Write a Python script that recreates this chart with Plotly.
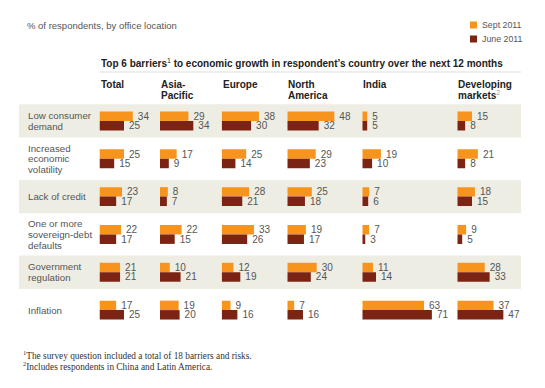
import plotly.graph_objects as go

# ---------------- data ----------------
row_label_lines = [
    ["Low consumer", "demand"],
    ["Increased", "economic", "volatility"],
    ["Lack of credit"],
    ["One or more", "sovereign-debt", "defaults"],
    ["Government", "regulation"],
    ["Inflation"],
]
region_header_lines = [
    ["Total"],
    ["Asia-", "Pacific"],
    ["Europe"],
    ["North", "America"],
    ["India"],
    ["Developing", "markets<sup><span style='color:#999'>2</span></sup>"],
]
sept_total = [34, 25, 23, 22, 21, 17]
june_total = [25, 15, 17, 17, 21, 25]
sept_asia = [29, 17, 8, 22, 10, 19]
june_asia = [34, 9, 7, 15, 21, 20]
sept_europe = [38, 25, 28, 33, 12, 9]
june_europe = [30, 14, 21, 26, 19, 16]
sept_na = [48, 29, 25, 19, 30, 7]
june_na = [32, 23, 18, 17, 24, 16]
sept_india = [5, 19, 7, 7, 11, 63]
june_india = [5, 10, 6, 3, 14, 71]
sept_dev = [15, 21, 18, 9, 28, 37]
june_dev = [8, 8, 15, 5, 33, 47]

sept_series = [sept_total, sept_asia, sept_europe, sept_na, sept_india, sept_dev]
june_series = [june_total, june_asia, june_europe, june_na, june_india, june_dev]
series_names = ["Sept 2011", "June 2011"]

title_text = "% of respondents, by office location"
header_text = ("Top 6 barriers<sup><span style='font-weight:normal'>1</span></sup> "
               "to economic growth in respondent\u2019s country over the next 12 months")
footnotes = [
    "<sup>1</sup>The survey question included a total of 18 barriers and risks.",
    "<sup>2</sup>Includes respondents in China and Latin America.",
]

# ---------------- style / layout ----------------
# the page body has an 8px default margin; coordinates below are screen pixels
OX, OY = 8, 8
W, H = 537, 380
PLOT_TOP, PLOT_BOTTOM = 102, 329
MT = PLOT_TOP - OY
MB = H - (PLOT_BOTTOM - OY)
PH = H - MT - MB
ORANGE = "#F7941E"
DARK = "#7B2414"
BAND = "#EEEDE3"
TXT = "#555555"
SANS = "Liberation Sans, Arial, sans-serif"
SERIF = "Liberation Serif, Times New Roman, serif"
PX_PER_UNIT = 0.98

panel_starts = [99.5, 160, 221.7, 287.3, 362.3, 457.3]
panel_ends = [156, 217, 283.5, 358, 453, 540]


def px_x(px):
    return (px - OX) / W


def px_y(py):
    return (PLOT_BOTTOM - py) / PH


fig = go.Figure()
n_rows = len(row_label_lines)
rows = list(range(n_rows))

layout_axes = {}
for k in range(6):
    ax = "x" if k == 0 else f"x{k + 1}"
    axname = "xaxis" if k == 0 else f"xaxis{k + 1}"
    width_px = panel_ends[k] - panel_starts[k]
    layout_axes[axname] = dict(
        domain=[px_x(panel_starts[k]), px_x(panel_ends[k])],
        range=[0, width_px / PX_PER_UNIT],
        visible=False, anchor="y", fixedrange=True,
    )
    for vals, color, name, off in [
        (sept_series[k], ORANGE, series_names[0], -0.25),
        (june_series[k], DARK, series_names[1], 0.0),
    ]:
        fig.add_trace(go.Bar(
            y=rows, x=vals, orientation="h", xaxis=ax, yaxis="y",
            marker=dict(color=color, line=dict(width=0)),
            width=0.25, offset=off, name=name, showlegend=False,
            text=["\u2009" + str(v) for v in vals], textposition="outside",
            textfont=dict(family=SANS, size=10, color=TXT),
            constraintext="none", cliponaxis=False,
            hoverinfo="skip",
        ))

fig.update_layout(
    width=W, height=H,
    margin=dict(l=0, r=0, t=MT, b=MB, pad=0),
    paper_bgcolor="white", plot_bgcolor="white",
    yaxis=dict(domain=[0, 1], range=[n_rows - 0.5, -0.5], visible=False,
               anchor="x", fixedrange=True),
    barmode="overlay",
    **layout_axes,
)

shapes = []
annotations = []

# shaded bands on alternate rows
for i in rows:
    if i % 2 == 0:
        shapes.append(dict(type="rect", xref="paper", yref="y", layer="below",
                           x0=px_x(19), x1=px_x(521), y0=i - 0.44, y1=i + 0.44,
                           fillcolor=BAND, line=dict(width=0)))

# row labels
LINE_H = 10.7
for i, lines in enumerate(row_label_lines):
    n = len(lines)
    for j, line in enumerate(lines):
        annotations.append(dict(
            text=line, xref="paper", yref="y", x=px_x(26.5), y=i,
            xanchor="left", yanchor="middle", showarrow=False,
            yshift=-(j - (n - 1) / 2) * LINE_H, borderpad=0,
            font=dict(family=SANS, size=9.7, color=TXT),
        ))

# region headers
for k, lines in enumerate(region_header_lines):
    for j, line in enumerate(lines):
        annotations.append(dict(
            text="<b>" + line.replace("<sup>", "</b><sup>").replace("</sup>", "</sup><b>") + "</b>",
            xref="paper", yref="paper", x=px_x(panel_starts[k]), y=px_y(84.3 + j * 11),
            xanchor="left", yanchor="middle", showarrow=False, borderpad=0,
            font=dict(family=SANS, size=10, color="#222222"),
        ))

# chart header + rule
annotations.append(dict(
    text="<b>" + header_text + "</b>", xref="paper", yref="paper",
    x=px_x(99.5), y=px_y(62.5), xanchor="left", yanchor="middle", showarrow=False,
    borderpad=0, font=dict(family=SANS, size=10, color="#222222"),
))
shapes.append(dict(type="line", xref="paper", yref="paper",
                   x0=px_x(99.5), x1=px_x(521), y0=px_y(72), y1=px_y(72),
                   line=dict(color="#DDDDDD", width=1)))

# title
annotations.append(dict(
    text=title_text, xref="paper", yref="paper", x=px_x(26), y=px_y(25),
    xanchor="left", yanchor="middle", showarrow=False, borderpad=0,
    font=dict(family=SANS, size=9.5, color=TXT),
))

# legend (manual)
for j, (name, color) in enumerate([(series_names[0], ORANGE), (series_names[1], DARK)]):
    cy = 25 + j * 14
    shapes.append(dict(type="rect", xref="paper", yref="paper",
                       x0=px_x(470), x1=px_x(477), y0=px_y(cy - 3.5), y1=px_y(cy + 3.5),
                       fillcolor=color, line=dict(width=0)))
    annotations.append(dict(
        text=name, xref="paper", yref="paper", x=px_x(481), y=px_y(cy),
        xanchor="left", yanchor="middle", showarrow=False, borderpad=0,
        font=dict(family=SANS, size=8.8, color=TXT),
    ))

# footnotes
for j, note in enumerate(footnotes):
    annotations.append(dict(
        text=note, xref="paper", yref="paper", x=px_x(22), y=px_y(355 + j * 11),
        xanchor="left", yanchor="middle", showarrow=False, borderpad=0,
        font=dict(family=SERIF, size=9.3, color="#333333"),
    ))

fig.update_layout(shapes=shapes, annotations=annotations)
fig.write_html("out.html")
